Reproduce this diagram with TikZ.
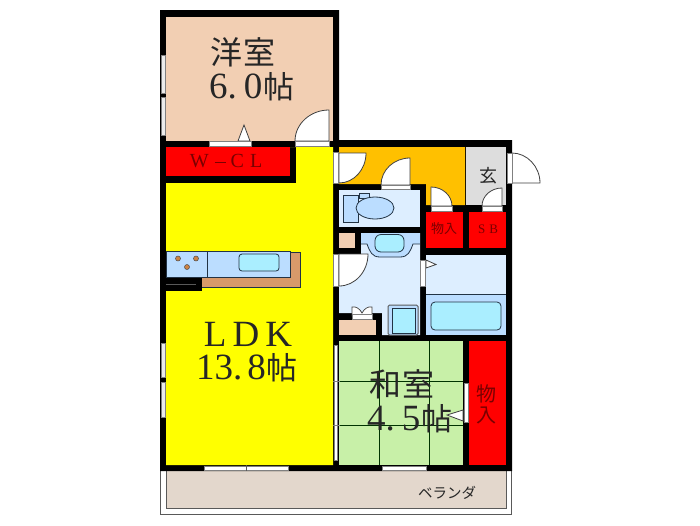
\documentclass[tikz,border=0pt]{standalone}
\usepackage{fontspec}
\setmainfont{Liberation Serif}
\newfontfamily\cjk{Noto Sans CJK JP}
\definecolor{wheatc}{HTML}{F2CFB3}
\definecolor{ldk}{HTML}{FFFF00}
\definecolor{hallc}{HTML}{FFC000}
\definecolor{lightb}{HTML}{DDEEFF}
\definecolor{midb}{HTML}{BBDDFF}
\definecolor{aqua}{HTML}{AAEEFF}
\definecolor{tatami}{HTML}{C8F0A8}
\definecolor{veranda}{HTML}{E3D7CC}
\definecolor{brownc}{HTML}{D89A6A}
\definecolor{genkan}{HTML}{DDDDDD}
\definecolor{lineb}{HTML}{223344}
\definecolor{redt}{HTML}{7A0000}
\tikzset{
  room/.style={fill=#1,draw=none},
  wall/.style={fill=black,draw=none},
  sill/.style={fill=white,draw=gray,line width=.6pt},
  leaf/.style={fill=white,draw=black!75,line width=.8pt},
  fixture/.style={draw=lineb,line width=.8pt,fill=#1},
  winbar/.style={fill=black!8,draw=gray,line width=1pt},
  lbl/.style={inner sep=0pt,text=black!85},
  tat/.style={draw=black!50!green!40!black,line width=.8pt}
}
\begin{document}
\begin{tikzpicture}[x=1pt,y=-1pt]
\useasboundingbox (0,0) rectangle (700,525);
\fill[white] (0,0) rectangle (700,525);
% veranda
\draw[draw=gray!70!black,fill=white,line width=1pt] (160.5,471) -- (160.5,514) -- (511.5,514) -- (511.5,471);
\fill[room=veranda] (166,471) rectangle (506,508);
\draw[draw=gray!70!black,line width=1pt] (166,471) -- (166,508) -- (506,508) -- (506,471);
% walls silhouette
\fill[black] (160,10) -- (339,10) -- (339,140) -- (512,140) -- (512,471) -- (160,471) -- cycle;
% rooms
\fill[room=wheatc] (166,17) rectangle (333,141);
\fill[room=ldk] (166,147) -- (333,147) -- (333,465) -- (166,465) -- (166,183) -- (296,183) -- (296,147) -- cycle;
\fill[red] (166,147) rectangle (290,176);
\fill[room=hallc] (339,147) -- (465,147) -- (465,205) -- (426,205) -- (426,184) -- (339,184) -- cycle;
\fill[room=genkan] (466,147) rectangle (506,205);
\fill[red] (426,212) rectangle (463,248);
\fill[red] (469,212) rectangle (506,248);
\fill[room=lightb] (339,190) rectangle (420,227);
\fill[room=wheatc] (339,233) rectangle (355,248);
\fill[room=lightb] (361,233) -- (420,233) -- (420,335) -- (382,335) -- (382,313) -- (339,313) -- (339,255) -- (361,255) -- cycle;
\fill[room=wheatc] (339,320) rectangle (376,335);
\fill[room=lightb] (426,255) rectangle (506,294);
\fill[room=midb] (426,294) rectangle (506,335);
\draw[lineb,line width=.8pt] (426,294) -- (506,294);
\fill[room=tatami] (339,341) rectangle (463,465);
\fill[red] (469,341) rectangle (506,465);
% tatami
\draw[tat] (379,341) -- (379,465);
\draw[tat] (429,341) -- (429,465);
\draw[tat] (339,381) -- (463,381);
\draw[tat] (339,425) -- (463,425);
% windows
\foreach \a/\b in {55/93,97/135,343/377,382/417}{\draw[winbar] (161,\a) rectangle (165,\b);}
\draw[winbar,fill=white,line width=.8pt] (334.5,345) rectangle (337.5,460);
\draw[gray,line width=.8pt] (333,381) -- (340,381) (333,425) -- (340,425);
\draw[winbar,fill=white,line width=.8pt] (204,466.5) rectangle (288,470);
\draw[gray!70!black,line width=.8pt] (246,465) -- (246,471);
\draw[winbar,fill=white,line width=.8pt] (382,466.5) rectangle (426,470);
% doors
\draw[leaf] (244,125) -- (238,141) -- (250,141) -- cycle;
\draw[sill] (209,141) rectangle (251,146);
\draw[leaf] (329,141) -- (329,110) .. controls (310.3,110) and (295,123.9) .. (295,141) -- cycle;
\draw[sill] (295,141) rectangle (329,146);
\draw[leaf] (339,183) -- (339,153) -- (366,153) .. controls (366,169.5) and (354,183) .. (339,183) -- cycle;
\draw[sill] (333.5,152) rectangle (338.5,183);
\draw[leaf] (410,185) -- (410,158) .. controls (394,158) and (381,170) .. (381,185) -- cycle;
\draw[sill] (381,185) rectangle (410,189);
\draw[leaf] (431,206) -- (431,187) .. controls (442.5,187) and (452,195.5) .. (452,206) -- cycle;
\draw[sill] (431,206) rectangle (452,211);
\draw[leaf] (502,206) -- (502,188) .. controls (491,188) and (482,196) .. (482,206) -- cycle;
\draw[sill] (482,206) rectangle (502,211);
\draw[leaf] (512,183) -- (512,153) .. controls (527,153) and (540,166.5) .. (540,183) -- cycle;
\draw[sill] (507,153) rectangle (512,183);
\draw[leaf] (339,286) -- (339,254) -- (368,254) .. controls (368,271.6) and (355,286) .. (339,286) -- cycle;
\draw[sill] (333.5,254) rectangle (338.5,286);
\draw[leaf] (426,260) -- (436,264.5) -- (426,268) -- cycle;
\draw[sill] (420.5,260) rectangle (425.5,286);
\draw[leaf] (447,415) -- (463,410) -- (463,421) -- cycle;
\draw[sill] (464,383) rectangle (468,422);
% kitchen
\fill[brownc] (202,277) -- (290,277) -- (290,252) -- (300,252) -- (300,287) -- (202,287) -- cycle;
\draw[lineb,line width=.7pt] (290,252) -- (300,252) -- (300,287) -- (202,287);
\draw[fixture=midb] (166,251) rectangle (290,277);
\draw[lineb,line width=.8pt] (207,251) -- (207,277);
\draw[fixture=aqua,rounded corners=3pt] (239,254) rectangle (279,271);
\foreach \x/\y in {178/258.5,196/258.5,187/267}{\draw[fill=brownc!70!orange!90!black,draw=black!70,line width=.5pt] (\x,\y) circle[radius=2.5];}
\fill[wall] (160,278) rectangle (202,291);
\draw[gray!70!black,line width=1pt] (166,284) -- (196,284);
% toilet
\draw[fixture=midb] (343,195) rectangle (358,222);
\draw[fixture=midb] (359,193) rectangle (369,198);
\draw[fixture=midb] (375,208) ellipse[x radius=19,y radius=11];
% wash basin
\fill[midb] (361,233) rectangle (420,244);
\fill[midb] (367,244) .. controls (370,252) and (372,257) .. (380,257) -- (400,257) .. controls (408,257) and (410,252) .. (413,244) -- cycle;
\draw[lineb,line width=.8pt] (361,244) -- (367,244) .. controls (370,252) and (372,257) .. (380,257) -- (400,257) .. controls (408,257) and (410,252) .. (413,244) -- (420,244);
\draw[fixture=aqua,rounded corners=6pt] (375,234.5) rectangle (404,252);
% washer pan
\draw[draw=gray!70!black,fill=midb,line width=1pt,rounded corners=1.5pt] (388,305) rectangle (418,335);
\draw[fixture=aqua] (392,308) rectangle (415,333);
% vanity mirror
\draw[leaf,line width=.7pt] (352,316) -- (352,307) .. controls (356,306) and (360,309) .. (362,313) .. controls (364,309) and (368,306) .. (372,307) -- (372,316) -- cycle;
\draw[sill] (352,314) rectangle (372,319);
% bath tub
\draw[fixture=aqua,rounded corners=4pt] (431,302) rectangle (501,330);
% labels
\node[lbl,font=\cjk\fontsize{32}{32}\selectfont,anchor=center] (yo) at (243,52) {洋\hspace{1pt}室};
\node[lbl,font=\fontsize{37}{37}\selectfont,anchor=west] (yon) at (209,87) {6.\hspace{7pt}0\hspace{1pt}{\cjk\fontsize{31}{31}\selectfont 帖}};
\node[lbl,font=\fontsize{37}{37}\selectfont,anchor=center] (l) at (248,334) {L\hspace{6pt}D\hspace{6pt}K};
\node[lbl,font=\fontsize{37}{37}\selectfont,anchor=center] (ln) at (247,368) {13.\hspace{5pt}8\hspace{1pt}{\cjk\fontsize{31}{31}\selectfont 帖}};
\node[lbl,font=\cjk\fontsize{32}{32}\selectfont,anchor=center] (wa) at (402,384) {和\hspace{1pt}室};
\node[lbl,font=\fontsize{37}{37}\selectfont,anchor=west] (wan) at (367,419) {4.\hspace{7pt}5\hspace{1pt}{\cjk\fontsize{31}{31}\selectfont 帖}};
\node[lbl,font=\fontsize{20}{20}\selectfont,text=redt] (wcl) at (226,161) {W\hspace{6pt}\rule[4.5pt]{11pt}{1.4pt}\hspace{5pt}C\hspace{6pt}L};
\node[lbl,font=\cjk\fontsize{18}{18}\selectfont] (gen) at (488,176) {玄};
\node[lbl,font=\cjk\fontsize{13}{13}\selectfont,text=redt] (mono1) at (444,229) {物入};
\node[lbl,font=\fontsize{13}{13}\selectfont,text=redt] (sb) at (488,229) {S\hspace{4pt}B};
\node[lbl,font=\cjk\fontsize{20}{20}\selectfont,text=redt] (mono2a) at (486,394) {物};
\node[lbl,font=\cjk\fontsize{20}{20}\selectfont,text=redt] (mono2b) at (486,415) {入};
\node[lbl,font=\cjk\fontsize{14.5}{14.5}\selectfont] (ve) at (447,493) {ベランダ};
\end{tikzpicture}
\end{document}
